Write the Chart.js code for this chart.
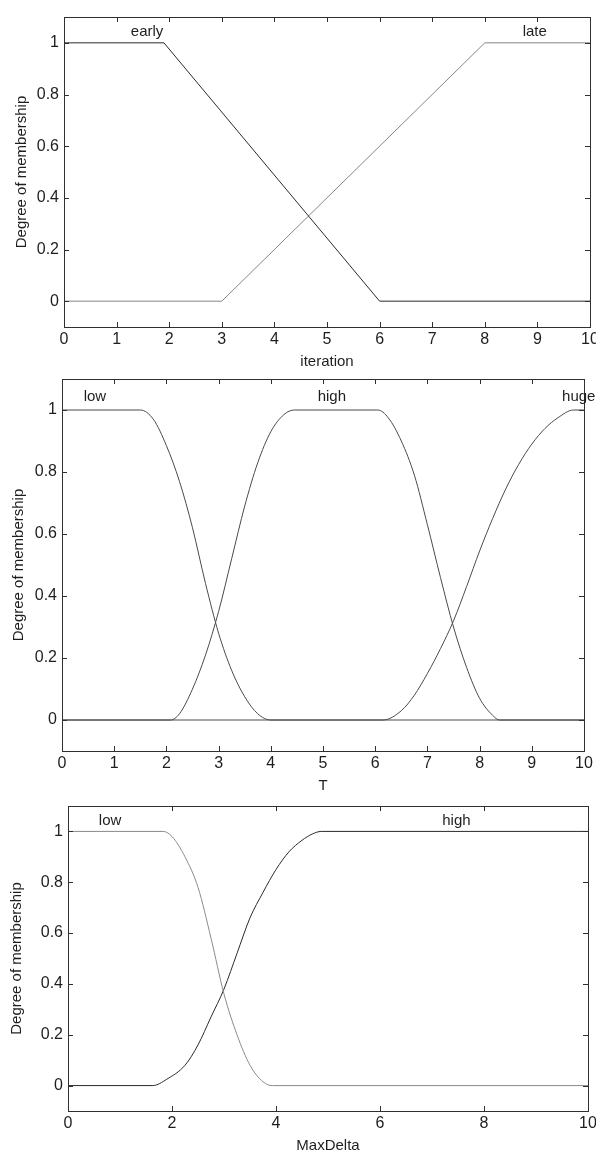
<!DOCTYPE html>
<html>
<head>
<meta charset="utf-8">
<script src="https://cdn.jsdelivr.net/npm/chart.js@4.4.1/dist/chart.umd.min.js"></script>
<style>
  html, body { margin: 0; padding: 0; background: #fff; }
  body { width: 596px; height: 1158px; position: relative; overflow: hidden; }
  canvas { position: absolute; left: 0; }
</style>
</head>
<body>
<canvas id="c1" width="596" height="380" style="top:0px"></canvas>
<canvas id="c2" width="596" height="445" style="top:360px"></canvas>
<canvas id="c3" width="596" height="368" style="top:790px"></canvas>
<script>
// --- ticks ---
const MEMBERSHIP_TICKS = [0, 0.2, 0.4, 0.6, 0.8, 1];
const UNIT_TICKS = [0, 1, 2, 3, 4, 5, 6, 7, 8, 9, 10];
const EVEN_TICKS = [0, 2, 4, 6, 8, 10];

// --- iteration: early / late ---
const EARLY_X = [0, 1.9, 6, 10];
const EARLY_Y = [1, 1, 0, 0];
const LATE_X = [0, 3, 8, 10];
const LATE_Y = [0, 0, 1, 1];

// --- T: low / high / huge ---
const T_LOW_X = [0, 1.5, 1.75, 2.0, 2.25, 2.5, 2.75, 3.0, 3.25, 3.5, 3.75, 4.0, 10];
const T_LOW_Y = [1, 1, 0.97, 0.885, 0.77, 0.62, 0.44, 0.28, 0.16, 0.075, 0.02, 0, 0];
const T_HIGH_X = [0, 2.08, 2.25, 2.5, 2.75, 3.0, 3.25, 3.5, 3.75, 4.0, 4.25, 4.45,
                  6.05, 6.25, 6.5, 6.75, 7.0, 7.25, 7.5, 7.75, 8.0, 8.25, 8.38, 10];
const T_HIGH_Y = [0, 0, 0.02, 0.1, 0.21, 0.35, 0.52, 0.69, 0.83, 0.93, 0.985, 1,
                  1, 0.975, 0.9, 0.79, 0.63, 0.46, 0.30, 0.17, 0.07, 0.015, 0, 0];
const T_HUGE_X = [0, 6.15, 6.5, 6.75, 7.0, 7.25, 7.5, 7.75, 8.0, 8.25, 8.5, 8.75, 9.0, 9.25, 9.5, 9.8, 10];
const T_HUGE_Y = [0, 0, 0.03, 0.08, 0.15, 0.23, 0.32, 0.43, 0.545, 0.65, 0.745, 0.825, 0.89, 0.94, 0.975, 1, 1];

// --- MaxDelta: low / high ---
const D_LOW_X = [0, 1.83, 2.0, 2.25, 2.5, 2.75, 3.0, 3.25, 3.5, 3.75, 3.93, 10];
const D_LOW_Y = [1, 1, 0.98, 0.90, 0.78, 0.58, 0.36, 0.20, 0.08, 0.015, 0, 0];
const D_HIGH_X = [0, 1.63, 1.9, 2.25, 2.5, 2.75, 3.0, 3.25, 3.5, 3.75, 4.0, 4.25, 4.5, 4.7, 4.87, 10];
const D_HIGH_Y = [0, 0, 0.025, 0.08, 0.16, 0.27, 0.38, 0.52, 0.66, 0.76, 0.85, 0.92, 0.965, 0.99, 1, 1];

const FONT = "'Liberation Sans', Arial, sans-serif";
const INK = '#1e1e1e';

function pts(xs, ys) {
  return xs.map((x, i) => ({ x: x, y: ys[i] }));
}

// matlab style box with inward ticks + mf names over the peaks
const matlabBox = {
  id: 'matlabBox',
  afterDatasetsDraw(chart, args, opts) {
    const { ctx, chartArea: a } = chart;
    const xs = chart.scales.x, ys = chart.scales.y;
    ctx.save();
    ctx.strokeStyle = '#303030';
    ctx.lineWidth = 1;
    ctx.strokeRect(Math.round(a.left) + 0.5, Math.round(a.top) + 0.5,
                   Math.round(a.right - a.left), Math.round(a.bottom - a.top));
    ctx.beginPath();
    xs.ticks.forEach(t => {
      const px = Math.round(xs.getPixelForValue(t.value)) + 0.5;
      ctx.moveTo(px, a.bottom); ctx.lineTo(px, a.bottom - 5);
      ctx.moveTo(px, a.top); ctx.lineTo(px, a.top + 5);
    });
    ys.ticks.forEach(t => {
      const py = Math.round(ys.getPixelForValue(t.value)) + 0.5;
      ctx.moveTo(a.left, py); ctx.lineTo(a.left + 5, py);
      ctx.moveTo(a.right, py); ctx.lineTo(a.right - 5, py);
    });
    ctx.stroke();

    ctx.fillStyle = INK;
    ctx.font = '15px ' + FONT;
    ctx.textAlign = 'center';
    ctx.textBaseline = 'alphabetic';
    const yTop = ys.getPixelForValue(1) - opts.lift;
    opts.names.forEach((n, i) => {
      ctx.fillText(n, xs.getPixelForValue(opts.at[i]), yTop);
    });
    ctx.restore();
  }
};

function makePanel(id, canvasTop, area, titleX, xTitle, xTicks, series, names, at, lift) {
  const canvas = document.getElementById(id);
  const H = canvas.height;
  const padLeft = titleX - 9;
  const xHeight = 44;
  const padBottom = H - (area.bottom - canvasTop) - xHeight;

  return new Chart(canvas, {
    type: 'line',
    data: {
      datasets: series.map(s => ({
        data: pts(s.x, s.y),
        borderColor: s.color,
        borderWidth: 1,
        pointRadius: 0,
        fill: false,
        cubicInterpolationMode: s.smooth ? 'monotone' : 'default',
        tension: 0,
      })),
    },
    options: {
      responsive: false,
      devicePixelRatio: 1,
      animation: false,
      events: [],
      layout: {
        padding: { left: padLeft, top: area.top - canvasTop, right: 596 - area.right, bottom: padBottom },
      },
      scales: {
        x: {
          type: 'linear', min: 0, max: 10,
          grid: { display: false, drawTicks: false },
          border: { display: false },
          afterBuildTicks: (s) => { s.ticks = xTicks.map(v => ({ value: v })); },
          afterFit: (s) => { s.height = xHeight; s.paddingLeft = 0; s.paddingRight = 0; },
          ticks: { color: INK, font: { family: FONT, size: 16 }, padding: 3, maxRotation: 0,
                   callback: (v) => String(v) },
          title: { display: true, text: xTitle, color: INK, font: { family: FONT, size: 15 },
                   padding: 0 },
        },
        y: {
          type: 'linear', min: -0.1, max: 1.1,
          grid: { display: false, drawTicks: false },
          border: { display: false },
          afterBuildTicks: (s) => { s.ticks = MEMBERSHIP_TICKS.map(v => ({ value: v })); },
          afterFit: (s) => { s.width = area.left - padLeft; s.paddingTop = 0; s.paddingBottom = 0; },
          ticks: { color: INK, font: { family: FONT, size: 16 }, padding: 5,
                   callback: (v) => String(v) },
          title: { display: true, text: 'Degree of membership', color: INK,
                   font: { family: FONT, size: 15 }, padding: 0 },
        },
      },
      plugins: {
        legend: { display: false },
        tooltip: { enabled: false },
        matlabBox: { names: names, at: at, lift: lift },
      },
    },
    plugins: [matlabBox],
  });
}

makePanel('c1', 0, { left: 64, right: 590, top: 17, bottom: 327 }, 22, 'iteration', UNIT_TICKS, [
  { x: EARLY_X, y: EARLY_Y, color: '#2a2a2a' },
  { x: LATE_X, y: LATE_Y, color: '#858585' },
], ['early', 'late'], [1.58, 8.95], 7);

makePanel('c2', 360, { left: 62, right: 584, top: 379, bottom: 751 }, 19, 'T', UNIT_TICKS, [
  { x: T_LOW_X, y: T_LOW_Y, color: '#4a4a4a', smooth: true },
  { x: T_HIGH_X, y: T_HIGH_Y, color: '#4a4a4a', smooth: true },
  { x: T_HUGE_X, y: T_HUGE_Y, color: '#4a4a4a', smooth: true },
], ['low', 'high', 'huge'], [0.63, 5.17, 9.9], 9);

makePanel('c3', 790, { left: 68, right: 588, top: 806, bottom: 1111 }, 17, 'MaxDelta', EVEN_TICKS, [
  { x: D_LOW_X, y: D_LOW_Y, color: '#8a8a8a', smooth: true },
  { x: D_HIGH_X, y: D_HIGH_Y, color: '#2a2a2a', smooth: true },
], ['low', 'high'], [0.81, 7.47], 6);
</script>
</body>
</html>
